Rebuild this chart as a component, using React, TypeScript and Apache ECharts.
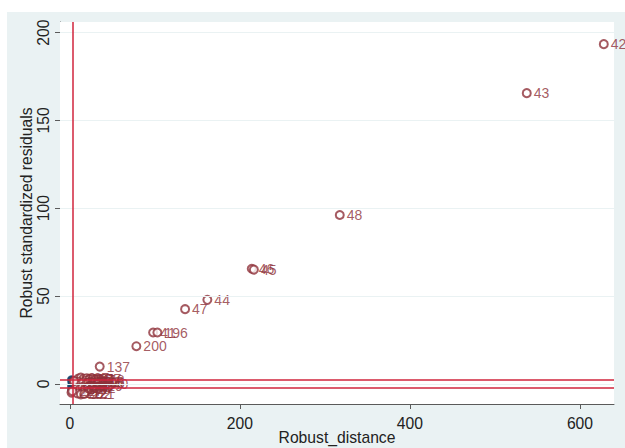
import React, { useEffect, useRef } from "react";
import * as echarts from "echarts";

// Labelled outliers
const outX = [628, 537.4, 317.5, 214, 216.5, 161.8, 135.6, 98, 103, 78.3, 35.2];
const outY = [193.4, 165.5, 96.1, 65.5, 65.0, 47.8, 42.5, 29.2, 29.2, 21.4, 9.8];
const outLabels = ["42", "43", "48", "46", "45", "44", "47", "41", "196", "200", "137"];

// Cluster of labelled points near the origin (maroon)
const clusterX = [10, 13, 16, 20, 23, 27, 30, 34, 37, 7, 10, 13, 16, 19, 22, 26, 29, 33, 8, 12, 15, 18, 21, 25, 28, 2, 9, 13, 17, 3, 5, 36, 32];
const clusterY = [3.0, 3.5, 2.8, 3.2, 2.6, 3.0, 2.4, 2.7, 2.2, 0.5, 1.2, 0.2, 1.0, -0.3, 0.8, -0.5, 0.6, -0.2, -2.2, -3.0, -1.8, -2.6, -2.0, -3.2, -1.5, -5.0, -5.5, -6.0, -5.8, -4.2, 1.5, 1.0, 0.3];
const clusterLabels = ["31", "8", "150", "27", "95", "61", "118", "77", "7", "3", "164", "52", "12", "89", "171", "33", "105", "140", "66", "188", "23", "142", "71", "2", "119", "222", "212", "202", "221", "227", "5", "17", "37"];

// Unlabelled regular points (navy)
const blueX = [0.5, 1.0, 1.5, 2.0, 2.5, 3.0, 0.8, 1.2, 1.8, 2.2, 2.8, 3.2, 0.6, 1.4, 2.0, 2.6, 1.0, 1.6, 2.4, 3.0, 0.9, 1.7, 2.3];
const blueY = [2.5, 1.8, 3.0, 0.5, -0.5, 1.2, -1.5, -2.5, -0.8, 2.2, -2.0, 0.0, -3.5, -3.0, 1.5, -1.2, 0.8, -4.0, -3.3, 2.8, -1.0, 0.2, -2.6];

const xTicks = [0, 200, 400, 600];
const yTicks = [0, 50, 100, 150, 200];
const distCutoff = 4.0;
const residCutoff = 2.24;

const MAROON = "#8E3139";
const NAVY = "#1A476F";
const RED = "#D0243C";
const BG = "#EAF2F3";
const AXIS = "#5a5a5a";
const FONT = "'Liberation Sans', Arial, sans-serif";

export default function App() {
  const ref = useRef<HTMLDivElement>(null);
  useEffect(() => {
    if (!ref.current) return;
    const chart = echarts.init(ref.current, undefined, { renderer: "svg" });
    const redData = [
      ...outX.map((x, i) => ({ value: [x, outY[i]], name: outLabels[i] })),
      ...clusterX.map((x, i) => ({ value: [x, clusterY[i]], name: clusterLabels[i] })),
    ];
    const blueData = blueX.map((x, i) => [x, blueY[i]]);
    chart.setOption({
      animation: false,
      backgroundColor: "#ffffff",
      textStyle: { fontFamily: FONT },
      graphic: [
        {
          type: "rect",
          z: -100,
          zlevel: 0,
          silent: true,
          shape: { x: 7, y: 12, width: 618, height: 436 },
          style: { fill: BG },
        },
      ],
      grid: {
        left: 60,
        right: 11,
        top: 22,
        bottom: 44,
        containLabel: false,
        outerBoundsMode: "none",
        show: true,
        backgroundColor: "#ffffff",
        borderWidth: 0,
        z: 1,
      },
      xAxis: {
        type: "value",
        min: -11.5,
        max: 640,
        name: "Robust_distance",
        nameLocation: "middle",
        nameGap: 25,
        nameMoveOverlap: false,
        nameTextStyle: { fontSize: 15.7, color: "#222", fontFamily: FONT },
        axisLine: { show: true, onZero: false, lineStyle: { color: AXIS, width: 1 } },
        axisTick: { show: true, length: 5, lineStyle: { color: AXIS }, customValues: xTicks },
        axisLabel: { fontSize: 15.7, color: "#222", margin: 11, customValues: xTicks, fontFamily: FONT },
        splitLine: { show: false },
      },
      yAxis: {
        type: "value",
        min: -11.5,
        max: 206,
        name: "Robust standardized residuals",
        nameLocation: "middle",
        nameGap: 26,
        nameMoveOverlap: false,
        nameRotate: 90,
        nameTextStyle: { fontSize: 15.7, color: "#222", fontFamily: FONT },
        axisLine: { show: true, onZero: false, lineStyle: { color: AXIS, width: 1 } },
        axisTick: { show: true, length: 5, lineStyle: { color: AXIS }, customValues: yTicks },
        axisLabel: { fontSize: 15.7, color: "#222", margin: 9, rotate: 90, customValues: yTicks, fontFamily: FONT },
        splitLine: { show: false },
      },
      series: [
        {
          type: "scatter",
          data: [],
          silent: true,
          markLine: {
            silent: true,
            symbol: "none",
            label: { show: false },
            lineStyle: { color: BG, width: 1.2, type: "solid" },
            data: yTicks.map((v) => ({ yAxis: v })),
          },
          z: 2,
        },
        {
          type: "scatter",
          data: blueData,
          symbol: "circle",
          symbolSize: 6.5,
          itemStyle: { color: NAVY },
          z: 3,
        },
        {
          type: "scatter",
          data: redData,
          symbol: "emptyCircle",
          symbolSize: 8,
          itemStyle: { color: MAROON, borderColor: MAROON, borderWidth: 1.3 },
          label: {
            show: true,
            position: "right",
            distance: 2,
            formatter: "{b}",
            color: MAROON,
            fontSize: 14,
            fontFamily: FONT,
          },
          labelLayout: { hideOverlap: false },
          z: 4,
        },
        {
          type: "scatter",
          data: [],
          silent: true,
          markLine: {
            silent: true,
            symbol: "none",
            label: { show: false },
            lineStyle: { color: RED, width: 1.5, type: "solid" },
            data: [{ xAxis: distCutoff }, { yAxis: residCutoff }, { yAxis: -residCutoff }],
          },
          z: 5,
        },
      ],
    });
    return () => chart.dispose();
  }, []);
  return (
    <div
      ref={ref}
      style={{ position: "absolute", left: 0, top: 0, width: 625, height: 448 }}
    />
  );
}
